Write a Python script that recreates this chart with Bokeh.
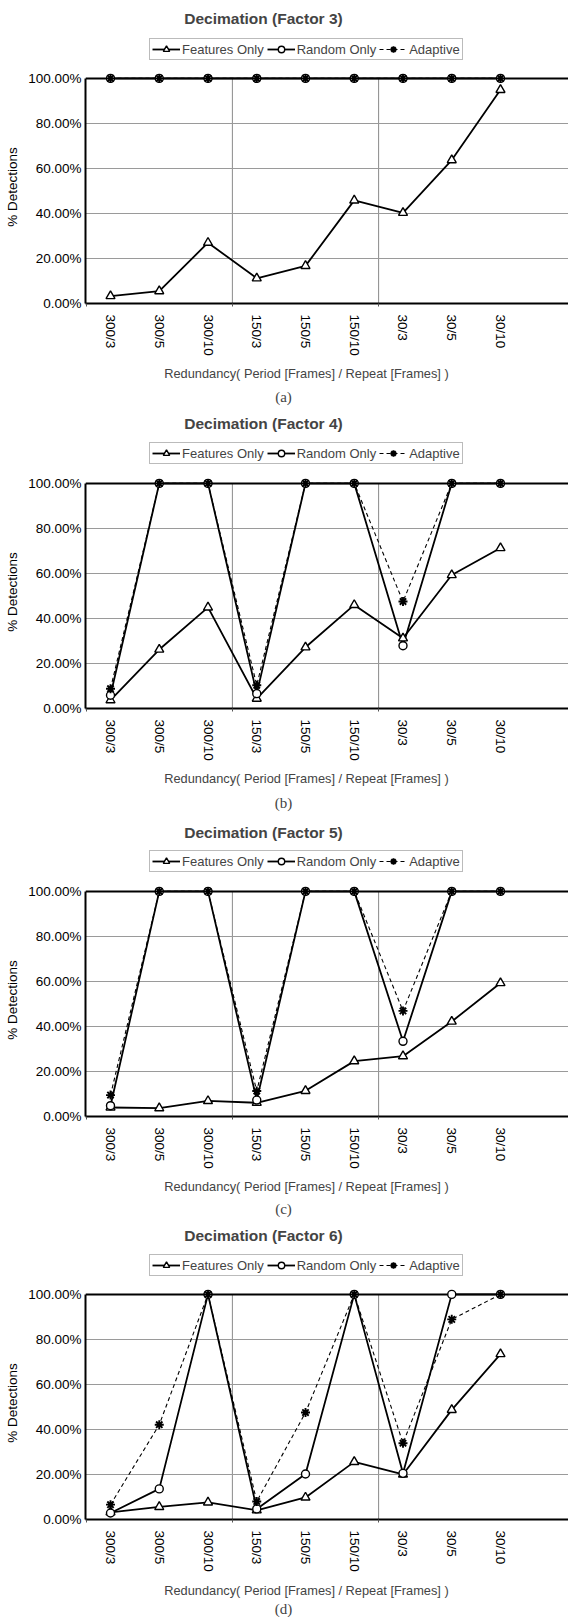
from bokeh.plotting import figure
from bokeh.layouts import column
from bokeh.models import (Range1d, FixedTicker, NumeralTickFormatter, Span, Label,
                          Legend, LegendItem)
from bokeh.embed import file_html
from bokeh.resources import INLINE

categories = ["300/3", "300/5", "300/10", "150/3", "150/5", "150/10", "30/3", "30/5", "30/10"]
titles = ["Decimation (Factor 3)", "Decimation (Factor 4)",
          "Decimation (Factor 5)", "Decimation (Factor 6)"]
panel_tags = ["(a)", "(b)", "(c)", "(d)"]
x_title = "Redundancy( Period [Frames] / Repeat [Frames] )"
y_title = "% Detections"
series_names = ["Features Only", "Random Only", "Adaptive"]
y_ticks = [0.0, 0.2, 0.4, 0.6, 0.8, 1.0]
group_size = 3

# Factor 3
features_f3 = [0.033, 0.055, 0.270, 0.112, 0.167, 0.458, 0.403, 0.637, 0.949]
random_f3 = [1.0, 1.0, 1.0, 1.0, 1.0, 1.0, 1.0, 1.0, 1.0]
adaptive_f3 = [1.0, 1.0, 1.0, 1.0, 1.0, 1.0, 1.0, 1.0, 1.0]
# Factor 4
features_f4 = [0.037, 0.262, 0.449, 0.044, 0.272, 0.460, 0.312, 0.593, 0.713]
random_f4 = [0.059, 1.0, 1.0, 0.066, 1.0, 1.0, 0.279, 1.0, 1.0]
adaptive_f4 = [0.088, 1.0, 1.0, 0.103, 1.0, 1.0, 0.475, 1.0, 1.0]
# Factor 5
features_f5 = [0.040, 0.037, 0.069, 0.061, 0.114, 0.246, 0.268, 0.422, 0.593]
random_f5 = [0.048, 1.0, 1.0, 0.073, 1.0, 1.0, 0.334, 1.0, 1.0]
adaptive_f5 = [0.095, 1.0, 1.0, 0.113, 1.0, 1.0, 0.469, 1.0, 1.0]
# Factor 6
features_f6 = [0.032, 0.056, 0.076, 0.041, 0.098, 0.256, 0.200, 0.487, 0.735]
random_f6 = [0.029, 0.136, 1.0, 0.047, 0.202, 1.0, 0.205, 1.0, 1.0]
adaptive_f6 = [0.066, 0.421, 1.0, 0.080, 0.475, 1.0, 0.339, 0.889, 1.0]

panels_data = [
    (features_f3, random_f3, adaptive_f3),
    (features_f4, random_f4, adaptive_f4),
    (features_f5, random_f5, adaptive_f5),
    (features_f6, random_f6, adaptive_f6),
]

FONT = "Liberation Sans"
W = 568
LEFT = 85  # frames of a column are aligned, so header/footer frames start here too
top_h = [70, 65, 67, 66]
title_y = [52, 52, 51, 51]
legend_y = [10, 11, 11, 10]
main_h = 288
bot_h = [52, 53, 49, 43]
xtitle_y = [37, 38, 34, 27]
tag_y = [14, 14, 12, 9]

xs = list(range(len(categories)))
bounds_x = [k * group_size - 0.5 for k in range(1, len(categories) // group_size)]


def add_series(fig, feat, rnd, adp):
    r_adp_line = fig.line(xs, adp, line_color="black", line_width=1.1, line_dash="4 3")
    r_rnd_line = fig.line(xs, rnd, line_color="black", line_width=1.8)
    r_feat_line = fig.line(xs, feat, line_color="black", line_width=1.8)
    r_feat = fig.scatter(xs, feat, marker="triangle", size=9, fill_color="white",
                         line_color="black", line_width=1.4)
    r_rnd = fig.scatter(xs, rnd, marker="circle", size=8, fill_color="white",
                        line_color="black", line_width=1.4)
    r_adp = fig.scatter(xs, adp, marker="asterisk", size=9, line_color="black",
                        line_width=1.9)
    return [(r_feat_line, r_feat), (r_rnd_line, r_rnd), (r_adp_line, r_adp)]


def blank_fig(h, xr=(0, 1), yr=(0, 1)):
    f = figure(width=W, height=h, title=None, x_range=Range1d(*xr), y_range=Range1d(*yr),
               x_axis_type=None, y_axis_type=None, output_backend="svg",
               toolbar_location=None, min_border=0, min_border_left=LEFT)
    f.outline_line_color = None
    f.grid.visible = False
    return f


figs = []
for i, (feat, rnd, adp) in enumerate(panels_data):
    # ---- header: title + legend ----
    t = blank_fig(top_h[i], xr=(20, 21), yr=(20, 21))
    pairs = add_series(t, feat, rnd, adp)
    legend = Legend(items=[LegendItem(label=series_names[k], renderers=list(pairs[k]))
                           for k in range(3)],
                    orientation="horizontal", location=(149 - LEFT, legend_y[i]))
    legend.label_text_font = FONT
    legend.label_text_font_size = "13px"
    legend.label_standoff = 2
    legend.glyph_width = 28
    legend.glyph_height = 16
    legend.label_height = 16
    legend.spacing = 3
    legend.padding = 2
    legend.margin = 0
    legend.border_line_color = "#777777"
    legend.border_line_width = 1
    t.add_layout(legend)
    t.add_layout(Label(x=263 - LEFT, y=title_y[i], x_units="screen", y_units="screen",
                       text=titles[i], text_align="center", text_baseline="middle",
                       text_font=FONT, text_font_style="bold", text_font_size="15.5px"))
    figs.append(t)

    # ---- main chart ----
    p = figure(width=W, height=main_h, title=None,
               x_range=Range1d(-0.513, 9.395), y_range=Range1d(0, 1.035),
               output_backend="svg", toolbar_location=None,
               min_border_left=LEFT, min_border_right=0,
               min_border_top=0, min_border_bottom=main_h - 235)
    p.outline_line_color = None
    p.background_fill_color = "white"

    p.ygrid.ticker = FixedTicker(ticks=[0.2, 0.4, 0.6, 0.8])
    p.ygrid.grid_line_color = "#9a9a9a"
    p.ygrid.grid_line_width = 1
    p.xgrid.visible = False
    p.segment(x0=bounds_x, y0=[0] * len(bounds_x), x1=bounds_x, y1=[1] * len(bounds_x),
              line_color="#8a8a8a", line_width=1, level="underlay")
    p.add_layout(Span(location=1.0, dimension="width", line_color="black",
                      line_width=2, level="underlay"))

    p.yaxis.ticker = FixedTicker(ticks=y_ticks)
    p.yaxis.formatter = NumeralTickFormatter(format="0.00%")
    p.yaxis.bounds = (0, 1)
    p.yaxis.axis_line_width = 2
    p.yaxis.major_tick_out = 0
    p.yaxis.major_tick_in = 0
    p.yaxis.minor_tick_out = 0
    p.yaxis.minor_tick_in = 0
    p.yaxis.major_label_standoff = 4
    p.yaxis.major_label_text_font = FONT
    p.yaxis.major_label_text_font_size = "13.5px"
    p.yaxis.major_label_text_color = "black"
    p.yaxis.axis_label = y_title
    p.yaxis.axis_label_text_font = FONT
    p.yaxis.axis_label_text_font_style = "normal"
    p.yaxis.axis_label_text_font_size = "13.5px"
    p.yaxis.axis_label_text_color = "black"
    p.yaxis.axis_label_standoff = 5

    p.xaxis.ticker = FixedTicker(ticks=xs, minor_ticks=[-0.5] + bounds_x)
    p.xaxis.major_label_overrides = {k: c for k, c in enumerate(categories)}
    p.xaxis.major_label_orientation = "vertical"
    p.xaxis.axis_line_width = 2
    p.xaxis.major_tick_out = 0
    p.xaxis.major_tick_in = 0
    p.xaxis.minor_tick_out = 3
    p.xaxis.minor_tick_in = 0
    p.xaxis.minor_tick_line_color = "#555555"
    p.xaxis.major_label_standoff = 8
    p.xaxis.major_label_text_font = FONT
    p.xaxis.major_label_text_font_size = "13.5px"
    p.xaxis.major_label_text_color = "black"

    add_series(p, feat, rnd, adp)
    figs.append(p)

    # ---- footer: x title + panel tag ----
    b = blank_fig(bot_h[i])
    b.add_layout(Label(x=306 - LEFT, y=xtitle_y[i], x_units="screen", y_units="screen",
                       text=x_title, text_align="center", text_baseline="middle",
                       text_font=FONT, text_font_size="12.8px"))
    b.add_layout(Label(x=283 - LEFT, y=tag_y[i], x_units="screen", y_units="screen",
                       text=panel_tags[i], text_align="center", text_baseline="middle",
                       text_font="Liberation Serif", text_font_size="15px"))
    figs.append(b)

layout = column(*figs, spacing=0)
open("out.html", "w").write(file_html(layout, INLINE))
